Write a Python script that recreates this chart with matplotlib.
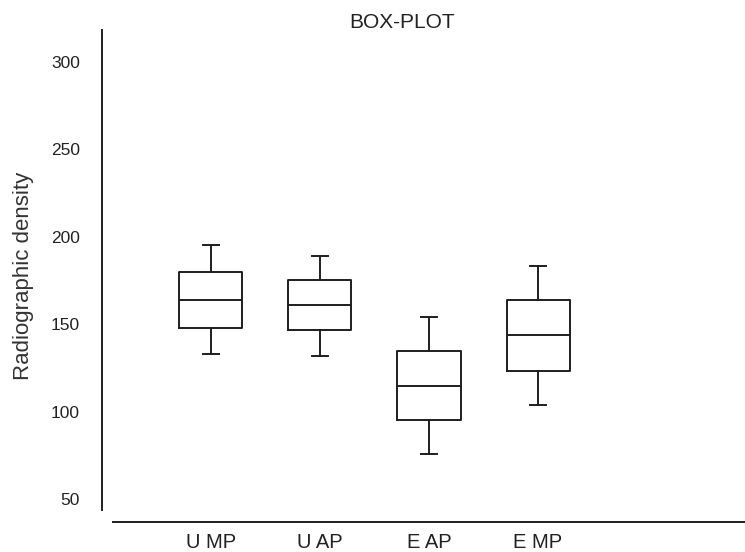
import matplotlib.pyplot as plt
import numpy as np

# values
groups = ['U MP', 'U AP', 'E AP', 'E MP']
whis_low = [132.8, 131.8, 75.7, 103.8]
q1 = [147.8, 146.9, 95.2, 123.4]
median = [163.8, 160.8, 114.8, 144.0]
q3 = [179.7, 175.1, 134.7, 163.8]
whis_high = [195.5, 189.0, 154.3, 183.5]
yticks = [50, 100, 150, 200, 250, 300]

plt.rcParams['font.family'] = ['Liberation Sans', 'DejaVu Sans']
ink = '#1e1e1e'

stats = []
for i in range(len(groups)):
    stats.append({'label': groups[i], 'whislo': whis_low[i], 'q1': q1[i],
                  'med': median[i], 'q3': q3[i], 'whishi': whis_high[i],
                  'fliers': []})

fig = plt.figure(figsize=(7.45, 5.52), dpi=100)
ax = fig.add_axes([113 / 745, 42 / 552, 632 / 745, 480 / 552])

lw = 1.4
ax.bxp(stats, positions=np.arange(1, len(groups) + 1), widths=0.578,
       capwidths=0.15, showfliers=False,
       boxprops=dict(color=ink, linewidth=lw),
       whiskerprops=dict(color=ink, linewidth=lw),
       capprops=dict(color=ink, linewidth=lw),
       medianprops=dict(color=ink, linewidth=lw))

ax.set_xlim(0.101, 5.899)
ax.set_ylim(43.7, 318.3)
ax.set_yticks(yticks)
ax.set_xticks(np.arange(1, len(groups) + 1))
ax.set_xticklabels(groups)

for s in ['top', 'right']:
    ax.spines[s].set_visible(False)
ax.spines['left'].set_position(('outward', 7.9))
ax.spines['bottom'].set_position(('outward', 8.6))
for s in ['left', 'bottom']:
    ax.spines[s].set_color(ink)
    ax.spines[s].set_linewidth(1.4)

ax.tick_params(axis='y', length=0, pad=16, labelsize=12.5, labelcolor='#222222')
ax.tick_params(axis='x', length=0, pad=8, labelsize=14.5, labelcolor='#222222')

ax.set_ylabel('Radiographic density', fontsize=16, color='#333333', va='center')
ax.yaxis.set_label_coords(-0.141, 0.4875)

fig.text(402 / 745, 1 - 22 / 552, 'BOX-PLOT', ha='center', va='center',
         fontsize=15, color='#222222')

fig.savefig('out.png', dpi=100)
